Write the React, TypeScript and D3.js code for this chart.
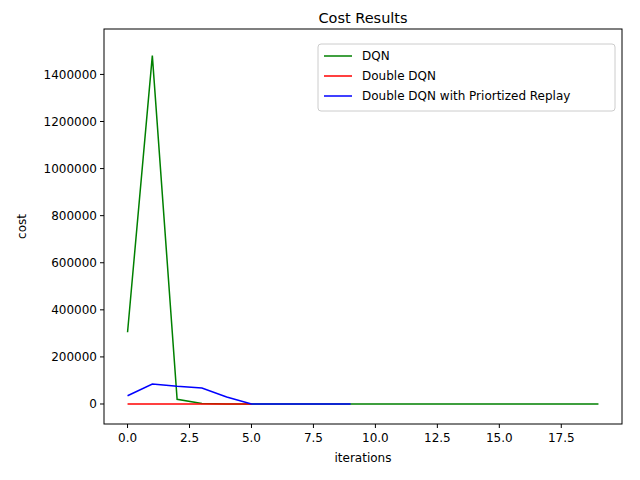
import React from "react";
import * as d3 from "d3";

const dqn = [305000, 1480000, 20000, 2000, 0, 0, 0, 0, 0, 0, 0, 0, 0, 0, 0, 0, 0, 0, 0, 0];
const doubleDqn = [0, 0, 0, 0, 0, 0];
const prioritized = [35000, 85000, 75000, 68000, 30000, 0, 0, 0, 0, 0];
const xTicks = [0, 2.5, 5, 7.5, 10, 12.5, 15, 17.5];
const yTicks = [0, 200000, 400000, 600000, 800000, 1000000, 1200000, 1400000];

const series = [
  { name: "DQN", color: "green", data: dqn },
  { name: "Double DQN", color: "red", data: doubleDqn },
  { name: "Double DQN with Priortized Replay", color: "blue", data: prioritized },
];

const W = 640, H = 480;
const m = { left: 104, right: 18, top: 29, bottom: 56 };

export default function App() {
  const x = d3.scaleLinear().domain([-0.95, 19.95]).range([m.left, W - m.right]);
  const y = d3.scaleLinear().domain([-85000, 1593000]).range([H - m.bottom, m.top]);
  const line = d3.line<number>().x((_, i) => x(i)).y((d) => y(d));
  const font = "DejaVu Sans";
  return (
    <svg width={W} height={H} style={{ position: "absolute", left: 0, top: 0, background: "#fff" }} fontFamily={font}>
      <rect x={0} y={0} width={W} height={H} fill="#fff" />
      {series.map((s) => (
        <path key={s.name} d={line(s.data) || ""} fill="none" stroke={s.color} strokeWidth={1.5} />
      ))}
      <rect x={m.left} y={m.top} width={W - m.left - m.right} height={H - m.top - m.bottom} fill="none" stroke="#000" strokeWidth={1} />
      {xTicks.map((t) => (
        <g key={t} transform={`translate(${x(t)},${H - m.bottom})`}>
          <line y2={4} stroke="#000" />
          <text y={18} textAnchor="middle" fontSize={12}>{t.toFixed(1)}</text>
        </g>
      ))}
      {yTicks.map((t) => (
        <g key={t} transform={`translate(${m.left},${y(t)})`}>
          <line x2={-4} stroke="#000" />
          <text x={-7} dy="0.35em" textAnchor="end" fontSize={12}>{t}</text>
        </g>
      ))}
      <text x={(m.left + W - m.right) / 2} y={462} textAnchor="middle" fontSize={12}>iterations</text>
      <text transform={`translate(26,${(m.top + H - m.bottom) / 2}) rotate(-90)`} textAnchor="middle" fontSize={12}>cost</text>
      <text x={(m.left + W - m.right) / 2} y={23} textAnchor="middle" fontSize={14.5}>Cost Results</text>
      <g transform="translate(318,44)">
        <rect width={297} height={67} rx={3} fill="#fff" fillOpacity={0.8} stroke="#ccc" />
        {series.map((s, i) => (
          <g key={s.name} transform={`translate(0,${12 + i * 20})`}>
            <line x1={6} x2={34} stroke={s.color} strokeWidth={1.5} />
            <text x={44} dy="0.35em" fontSize={12}>{s.name}</text>
          </g>
        ))}
      </g>
    </svg>
  );
}
